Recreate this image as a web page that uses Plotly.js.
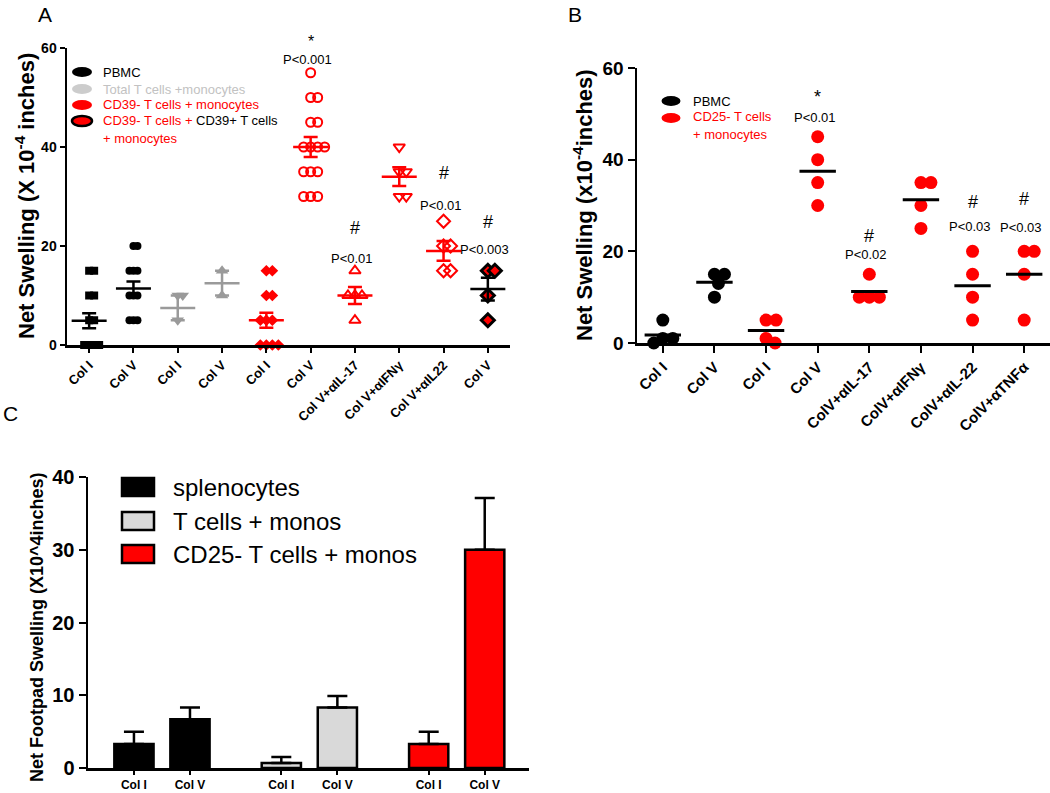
<!DOCTYPE html>
<html>
<head>
<meta charset="utf-8">
<script src="https://cdn.plot.ly/plotly-3.0.1.min.js"></script>
<style>html,body{margin:0;padding:0;background:#fff;}#chart{width:1050px;height:793px;}</style>
</head>
<body>
<div id="chart"></div>
<script>
// ---------------- DATA ----------------
// Panel A
const catsA = ['Col I','Col V','Col I','Col V','Col I','Col V','Col V+αIL-17','Col V+αIFNγ','Col V+αIL22','Col V'];
const a_pbmcColI   = [15,15,10,10,5,5,0,0,0,0];
const a_pbmcColV   = [20,20,15,15,15,10,10,10,5,5,5];
const a_totTColI   = [10,10,5];
const a_totTColV   = [15,10];
const a_cd39ColI   = [15,15,10,10,5,5,5,0,0,0,0];
const a_cd39ColV   = [55,50,50,45,45,40,40,40,40,35,35,35,30,30,30];
const a_cd39IL17   = [15,10,10,10,5];
const a_cd39IFNg   = [40,35,35,30,30];
const a_cd39IL22   = [25,20,20,15,15];
const a_cd39pos    = [15,15,10,5];
const meanA = [4.9,11.4,7.5,12.5,5.0,40.0,10.0,34.0,19.0,11.3];
const semA  = [1.5,1.45,2.5,2.5,1.5,2.0,1.7,1.9,2.0,2.3];
const sigA  = [{cat:5, mark:'*', p:'P<0.001'},{cat:6, mark:'#', p:'P<0.01'},{cat:8, mark:'#', p:'P<0.01'},{cat:9, mark:'#', p:'P<0.003'}];
const sigAyMark = [61.4, 23.6, 34.7, 24.8];
const sigAyP    = [57.6, 17.4, 28.1, 19.2];

// Panel B
const catsB = ['Col I','Col V','Col I','Col V','ColV+αIL-17','ColV+αIFNγ','ColV+αIL-22','ColV+αTNFα'];
const b_pbmcColI = [5,1,1,0];
const b_pbmcColV = [15,15,13,10];
const b_cd25ColI = [5,5,1,0];
const b_cd25ColV = [45,40,35,30];
const b_IL17     = [15,10,10,10];
const b_IFNg     = [35,35,30,25];
const b_IL22     = [20,15,10,5];
const b_TNFa     = [20,20,15,5];
const meanB = [1.75,13.25,2.75,37.5,11.25,31.25,12.5,15.0];
const sigB  = [{cat:3, mark:'*', p:'P<0.01'},{cat:4, mark:'#', p:'P<0.02'},{cat:6, mark:'#', p:'P<0.03'},{cat:7, mark:'#', p:'P<0.03'}];
const sigByMark = [53.6, 23.3, 30.8, 31.4];
const sigByP    = [49.1, 19.2, 25.5, 25.3];

// Panel C
const catsC = ['Col I','Col V'];
const groupsC = ['splenocytes','T cells + monos','CD25- T cells + monos'];
const c_spl    = [3.3, 6.7];
const c_splErr = [1.7, 1.6];
const c_tc     = [0.7, 8.3];
const c_tcErr  = [0.8, 1.6];
const c_cd25    = [3.3, 30.0];
const c_cd25Err = [1.7, 7.1];

// ---------------- HELPERS ----------------
const W = 1050, H = 793;
const PX = x => x / W;
const PY = y => 1 - y / H;
const FONT = 'Arial, "Liberation Sans", sans-serif';

// simple beeswarm: horizontal offsets (in category units) so markers don't collide
function swarm(vals, pxPerUnit, pxPerCat, sep) {
  const placed = [], out = [];
  vals.forEach(v => {
    const y = v * pxPerUnit;
    let dx = 0;
    for (let k = 0; k < 400; k++) {
      const c = k === 0 ? 0 : (k % 2 ? 1 : -1) * Math.ceil(k / 2);
      if (placed.every(p => Math.hypot(p[0] - c, p[1] - y) >= sep)) { dx = c; break; }
    }
    placed.push([dx, y]);
    out.push(dx / pxPerCat);
  });
  return out;
}

const traces = [];

// ---------------- PANEL A ----------------
const A_pxUnit = 297 / 60, A_pxCat = 44.3;
const RED = '#ff0000', GRAY = '#9a9a9a';
const seriesA = [a_pbmcColI, a_pbmcColV, a_totTColI, a_totTColV, a_cd39ColI, a_cd39ColV, a_cd39IL17, a_cd39IFNg, a_cd39IL22, a_cd39pos];
const styleA = [
  {sym:'square', size:8, color:'black', lc:'black', lw:0, sep:5, ec:'black'},
  {sym:'circle', size:8, color:'black', lc:'black', lw:0, sep:4, ec:'black'},
  {sym:'triangle-down', size:11, color:GRAY, lc:GRAY, lw:0, sep:5, ec:GRAY},
  {sym:'triangle-up', size:11, color:GRAY, lc:GRAY, lw:0, sep:5, ec:GRAY},
  {sym:'diamond', size:9, color:RED, lc:RED, lw:0, sep:6, ec:RED},
  {sym:'circle-open', size:9, color:RED, lc:RED, lw:2, sep:7, ec:RED},
  {sym:'triangle-up-open', size:10, color:RED, lc:RED, lw:2, sep:7, ec:RED},
  {sym:'triangle-down-open', size:10, color:RED, lc:RED, lw:2, sep:7, ec:RED},
  {sym:'diamond-open', size:10, color:RED, lc:RED, lw:2, sep:7, ec:RED},
  {sym:'diamond', size:10, color:RED, lc:'black', lw:3, sep:7, ec:'black'}
];
seriesA.forEach((vals, i) => {
  const s = styleA[i];
  const offs = swarm(vals, A_pxUnit, A_pxCat, s.sep);
  traces.push({
    type:'scatter', mode:'markers', xaxis:'x', yaxis:'y', cliponaxis:false, hoverinfo:'skip',
    x: vals.map((v, j) => i + offs[j]), y: vals,
    marker:{symbol:s.sym, size:s.size, color:s.color, line:{color:s.lc, width:s.lw}}
  });
});
meanA.forEach((m, i) => {
  const s = styleA[i];
  traces.push({
    type:'scatter', mode:'markers', xaxis:'x', yaxis:'y', cliponaxis:false, hoverinfo:'skip',
    x:[i], y:[m],
    marker:{symbol:'line-ew', size:25, color:s.ec, line:{color:s.ec, width:2.5}},
    error_y:{type:'data', array:[semA[i]], visible:true, color:s.ec, thickness:2.5, width:7}
  });
});

// ---------------- PANEL B ----------------
const B_pxUnit = 275 / 60, B_pxCat = 51.6;
const seriesB = [b_pbmcColI, b_pbmcColV, b_cd25ColI, b_cd25ColV, b_IL17, b_IFNg, b_IL22, b_TNFa];
seriesB.forEach((vals, i) => {
  const offs = swarm(vals, B_pxUnit, B_pxCat, 10);
  traces.push({
    type:'scatter', mode:'markers', xaxis:'x2', yaxis:'y2', cliponaxis:false, hoverinfo:'skip',
    x: vals.map((v, j) => i + offs[j]), y: vals,
    marker:{symbol:'circle', size:13, color: i < 2 ? 'black' : RED, line:{width:0}}
  });
});
traces.push({
  type:'scatter', mode:'markers', xaxis:'x2', yaxis:'y2', cliponaxis:false, hoverinfo:'skip',
  x: meanB.map((m, i) => i), y: meanB,
  marker:{symbol:'line-ew', size:26, color:'black', line:{color:'black', width:3}}
});

// ---------------- PANEL C ----------------
const groupStep = 2.63;
const barsC = [
  {vals:c_spl, err:c_splErr, color:'black'},
  {vals:c_tc, err:c_tcErr, color:'#d9d9d9'},
  {vals:c_cd25, err:c_cd25Err, color:RED}
];
const tickvalsC = [], ticktextC = [];
barsC.forEach((b, g) => {
  const xs = b.vals.map((v, i) => g * groupStep + i);
  xs.forEach((x, i) => { tickvalsC.push(x); ticktextC.push(catsC[i]); });
  traces.push({
    type:'bar', xaxis:'x3', yaxis:'y3', hoverinfo:'skip', name: groupsC[g],
    x: xs, y: b.vals, width: 0.7,
    marker:{color:b.color, line:{color:'black', width:2.5}},
    error_y:{type:'data', symmetric:false, array:b.err, arrayminus:b.vals.map(() => 0), visible:true, color:'black', thickness:2.5, width:10}
  });
});

// ---------------- ANNOTATIONS ----------------
const ann = [];
function txt(x, y, text, size, opts) {
  ann.push(Object.assign({xref:'paper', yref:'paper', x:PX(x), y:PY(y), text:text, showarrow:false,
    font:{family:FONT, size:size, color:'black'}, xanchor:'center', yanchor:'middle'}, opts || {}));
}
// panel letters
txt(45, 14, 'A', 21);
txt(575, 14, 'B', 21);
txt(10, 414, 'C', 21);
// y-axis titles
txt(25, 196, '<b>Net Swelling (X 10<sup>-4</sup> inches)</b>', 22, {textangle:-90});
txt(583, 205, '<b>Net Swelling (x10<sup>-4</sup>inches)</b>', 22, {textangle:-90});
txt(37, 627, '<b>Net Footpad Swelling (X10^4inches)</b>', 18, {textangle:-90});
// significance marks (positioned in axis-domain fractions of the 0-60 scale)
sigA.forEach((s, k) => {
  ann.push({xref:'x', yref:'y domain', x:s.cat, y:sigAyMark[k] / 60, text:s.mark, showarrow:false, font:{family:FONT, size:s.mark === '*' ? 16 : 18, color:'black'}, yanchor:'middle'});
  ann.push({xref:'x', yref:'y domain', x:s.cat, y:sigAyP[k] / 60, text:s.p, showarrow:false, font:{family:FONT, size:13, color:'black'}, yanchor:'middle', xshift:-3});
});
sigB.forEach((s, k) => {
  ann.push({xref:'x2', yref:'y2 domain', x:s.cat, y:sigByMark[k] / 60, text:s.mark, showarrow:false, font:{family:FONT, size:18, color:'black'}, yanchor:'middle'});
  ann.push({xref:'x2', yref:'y2 domain', x:s.cat, y:sigByP[k] / 60, text:s.p, showarrow:false, font:{family:FONT, size:13, color:'black'}, yanchor:'middle', xshift:-3});
});
// legend A
const legA = [
  {y:72, text:'PBMC', color:'black'},
  {y:89, text:'Total T cells +monocytes', color:'#c2c2c2'},
  {y:105, text:'CD39- T cells + monocytes', color:RED},
  {y:121, text:'CD39- T cells + <span style="color:black">CD39+ T cells</span>', color:RED},
  {y:138, text:'+ monocytes', color:RED}
];
legA.forEach(l => txt(101, l.y, l.text, 13, {xanchor:'left', font:{family:FONT, size:13, color:l.color}}));
// legend B
const legB = [
  {y:101, text:'PBMC', color:'black'},
  {y:117, text:'CD25- T cells', color:RED},
  {y:134, text:'+ monocytes', color:RED}
];
legB.forEach(l => txt(691, l.y, l.text, 13, {xanchor:'left', font:{family:FONT, size:13, color:l.color}}));
// legend C
const legCy = [487, 521, 554];
groupsC.forEach((g, i) => txt(171, legCy[i], g, 24, {xanchor:'left'}));

// ---------------- SHAPES (legend keys) ----------------
const shapes = [];
function ell(cx, cy, rx, ry, fill, lc, lw) {
  shapes.push({type:'circle', xref:'paper', yref:'paper', x0:PX(cx - rx), x1:PX(cx + rx), y0:PY(cy + ry), y1:PY(cy - ry),
    fillcolor:fill, line:{color:lc, width:lw}});
}
ell(82, 72, 10, 5, 'black', 'black', 0);
ell(82, 89, 10, 5, '#cccccc', '#cccccc', 0);
ell(82, 105, 10, 5, RED, RED, 0);
ell(82, 121, 10, 5, RED, 'black', 2.5);
ell(671, 101, 9.5, 5, 'black', 'black', 0);
ell(671, 118, 9.5, 5, RED, RED, 0);
const legCfill = ['black', '#d9d9d9', RED];
legCy.forEach((y, i) => shapes.push({type:'rect', xref:'paper', yref:'paper', x0:PX(122), x1:PX(154), y0:PY(y + 9), y1:PY(y - 9),
  fillcolor:legCfill[i], line:{color:'black', width:2.5}}));

// ---------------- LAYOUT ----------------
const axBase = {showline:true, linecolor:'black', linewidth:2.5, ticks:'outside', tickcolor:'black', tickwidth:2,
  showgrid:false, zeroline:false, fixedrange:true};
const layout = {
  width:W, height:H, margin:{l:0, r:0, t:0, b:0}, paper_bgcolor:'white', plot_bgcolor:'white',
  showlegend:false, font:{family:FONT, color:'black'},
  xaxis: Object.assign({}, axBase, {domain:[PX(67), PX(510)], anchor:'y', range:[-0.5, 9.5],
    tickvals:catsA.map((c, i) => i), ticktext:catsA, tickangle:-45, ticklen:5,
    tickfont:{family:FONT, size:13, weight:'bold', color:'black'}}),
  yaxis: Object.assign({}, axBase, {domain:[PY(345), PY(48)], anchor:'x', range:[0, 60], dtick:20, ticklen:5,
    tickfont:{family:FONT, size:14, weight:'bold', color:'black'}}),
  xaxis2: Object.assign({}, axBase, {domain:[PX(637), 1], anchor:'y2', range:[-0.5, 7.5],
    tickvals:catsB.map((c, i) => i), ticktext:catsB, tickangle:-45, ticklen:7,
    tickfont:{family:FONT, size:15, weight:'bold', color:'black'}}),
  yaxis2: Object.assign({}, axBase, {domain:[PY(343), PY(68)], anchor:'x2', range:[0, 60], dtick:20, ticklen:7,
    tickfont:{family:FONT, size:19, weight:'bold', color:'black'}}),
  xaxis3: Object.assign({}, axBase, {domain:[PX(88), PX(529)], anchor:'y3', range:[-0.82, 7.05],
    tickvals:tickvalsC, ticktext:ticktextC, tickangle:0, ticklen:4,
    tickfont:{family:FONT, size:12, weight:'bold', color:'black'}}),
  yaxis3: Object.assign({}, axBase, {domain:[PY(768), PY(477)], anchor:'x3', range:[0, 40], dtick:10, ticklen:7,
    tickfont:{family:FONT, size:20, weight:'bold', color:'black'}}),
  annotations: ann,
  shapes: shapes,
  bargap:0
};

Plotly.newPlot('chart', traces, layout, {staticPlot:true, displayModeBar:false});
</script>
</body>
</html>
